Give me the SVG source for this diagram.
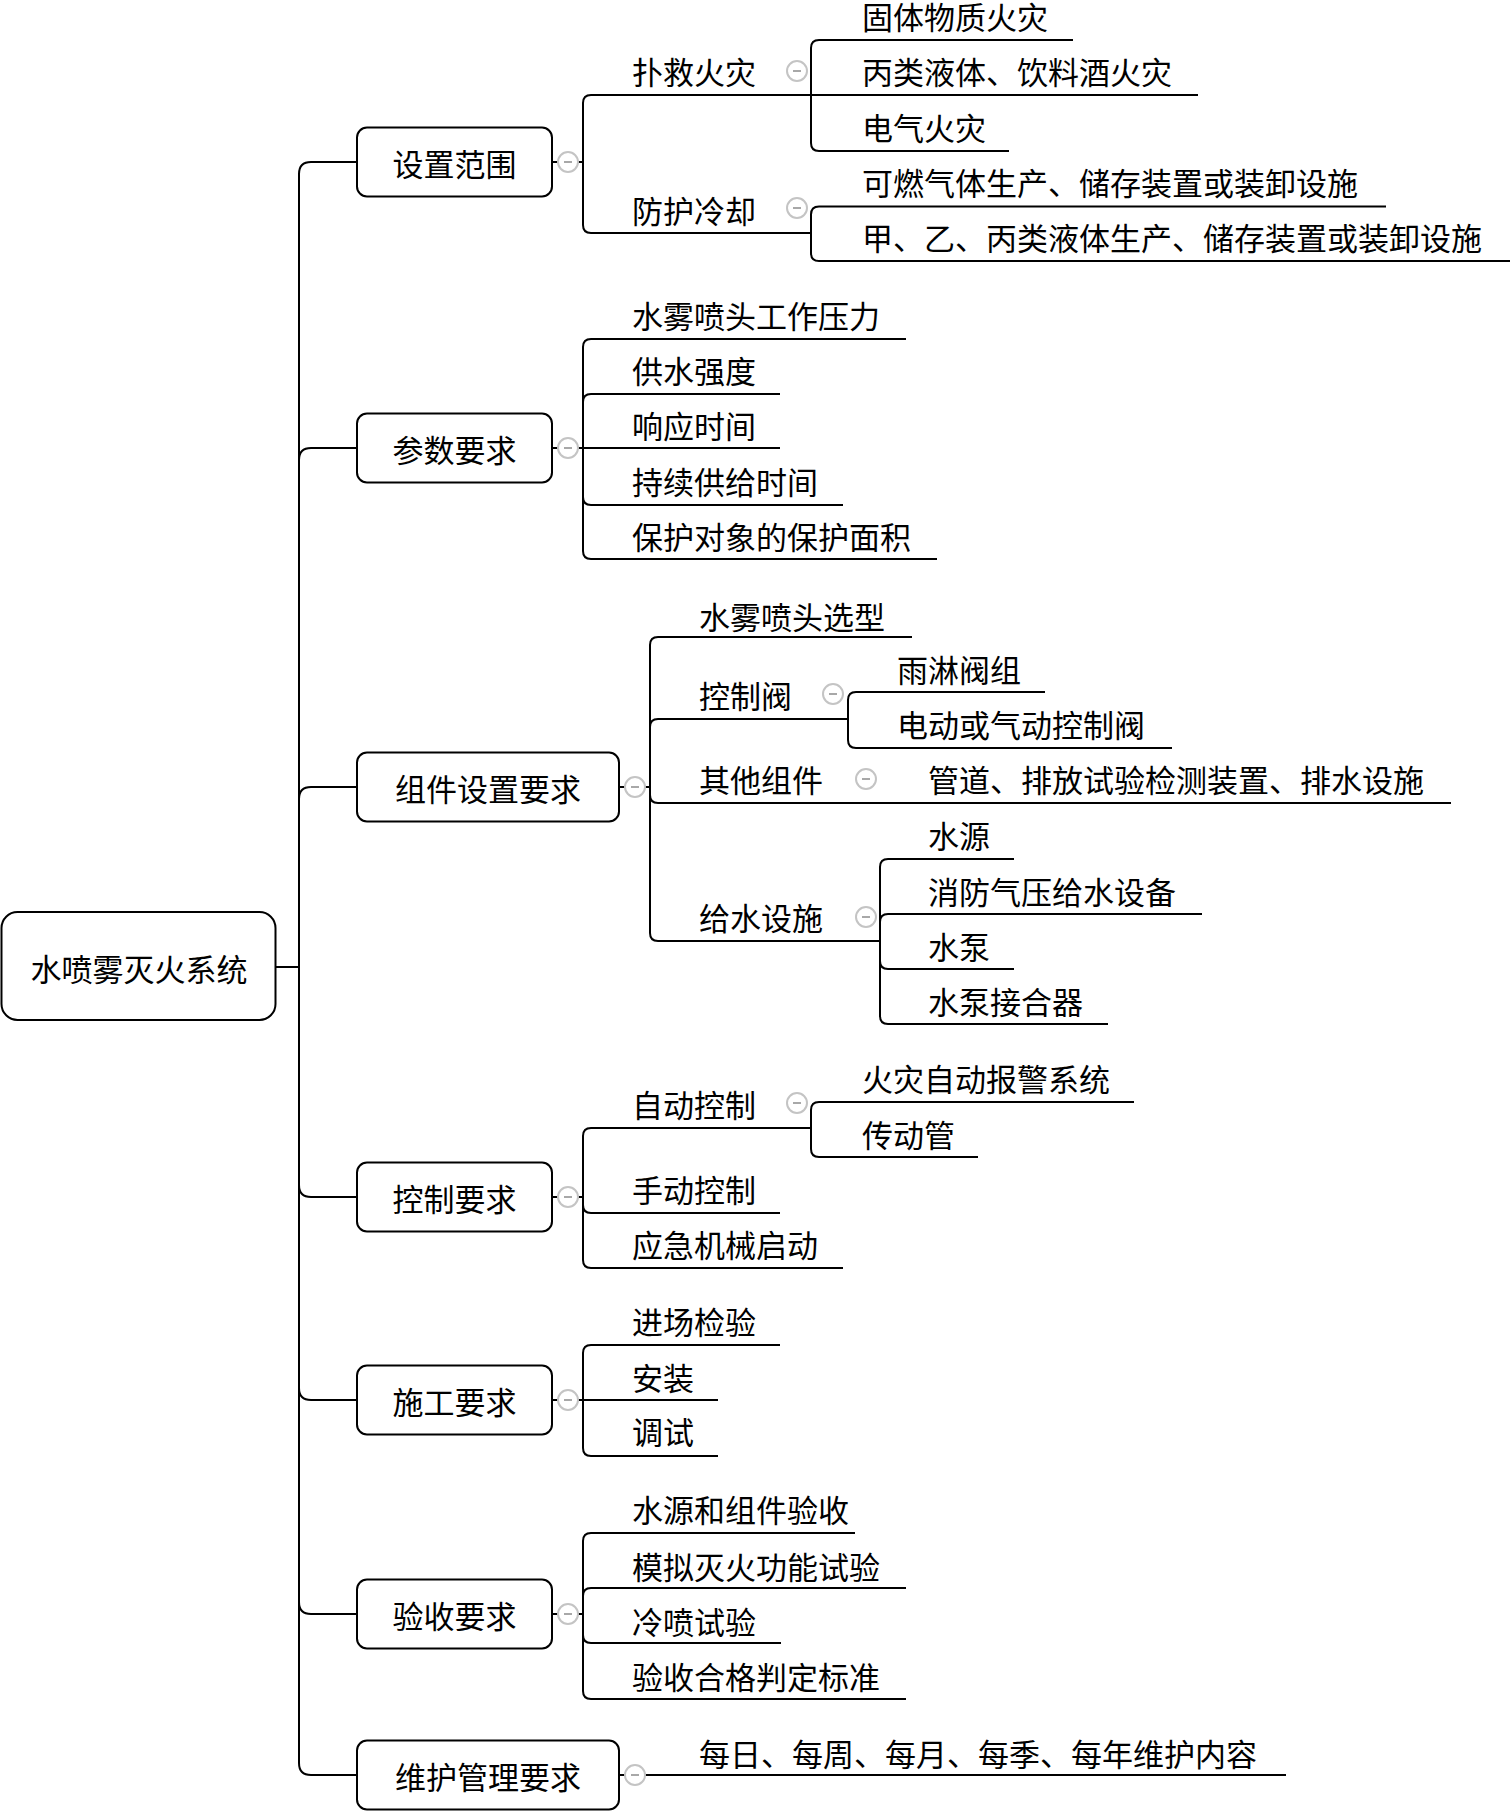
<svg xmlns="http://www.w3.org/2000/svg" width="1511" height="1811" viewBox="0 0 1511 1811">
<style>
.ln{fill:none;stroke:#000;stroke-width:2}
.box{fill:#fff;stroke:#000;stroke-width:2}
.t{font-family:"Noto Sans CJK SC","Noto Sans CJK TC",sans-serif;font-size:31px;fill:#000;dominant-baseline:central}
.mid{text-anchor:middle}
.c{fill:#fff;stroke:#c4c4c4;stroke-width:2}
.m{stroke:#a8a8a8;stroke-width:2}
</style>
<rect width="1511" height="1811" fill="#fff"/>
<g id="connectors">
<path class="ln" d="M275 967 H299"/>
<path class="ln" d="M299 967 V174 Q299 162 311 162 H357"/>
<path class="ln" d="M299 967 V460 Q299 448 311 448 H357"/>
<path class="ln" d="M299 967 V799 Q299 787 311 787 H357"/>
<path class="ln" d="M299 967 V1185 Q299 1197 311 1197 H357"/>
<path class="ln" d="M299 967 V1388 Q299 1400 311 1400 H357"/>
<path class="ln" d="M299 967 V1602 Q299 1614 311 1614 H357"/>
<path class="ln" d="M299 967 V1763 Q299 1775 311 1775 H357"/>
<path class="ln" d="M552 162 H583"/>
<path class="ln" d="M552 448 H583"/>
<path class="ln" d="M619 787 H650"/>
<path class="ln" d="M552 1197 H583"/>
<path class="ln" d="M552 1400 H583"/>
<path class="ln" d="M552 1614 H583"/>
<path class="ln" d="M619 1775 H1286"/>
<path class="ln" d="M583 162 V103 Q583 95 591 95 H811"/>
<path class="ln" d="M583 162 V225 Q583 233 591 233 H811"/>
<path class="ln" d="M811 95 V48 Q811 40 819 40 H1073"/>
<path class="ln" d="M811 95 H1198"/>
<path class="ln" d="M811 95 V143 Q811 151 819 151 H1009"/>
<path class="ln" d="M811 233 V214.5 Q811 206.5 819 206.5 H1386"/>
<path class="ln" d="M811 233 V253 Q811 261 819 261 H1510"/>
<path class="ln" d="M583 448 V347 Q583 339 591 339 H906"/>
<path class="ln" d="M583 448 V402 Q583 394 591 394 H780"/>
<path class="ln" d="M583 448 H780"/>
<path class="ln" d="M583 448 V497 Q583 505 591 505 H843"/>
<path class="ln" d="M583 448 V551 Q583 559 591 559 H937"/>
<path class="ln" d="M650 787 V645 Q650 637 658 637 H912"/>
<path class="ln" d="M650 787 V727 Q650 719 658 719 H848"/>
<path class="ln" d="M650 787 V795 Q650 803 658 803 H880"/>
<path class="ln" d="M650 787 V933 Q650 941 658 941 H880"/>
<path class="ln" d="M848 719 V700 Q848 692 856 692 H1045"/>
<path class="ln" d="M848 719 V740 Q848 748 856 748 H1172"/>
<path class="ln" d="M880 803 H1451"/>
<path class="ln" d="M880 941 V867 Q880 859 888 859 H1014"/>
<path class="ln" d="M880 941 V922 Q880 914 888 914 H1202"/>
<path class="ln" d="M880 941 V961 Q880 969 888 969 H1014"/>
<path class="ln" d="M880 941 V1016 Q880 1024 888 1024 H1108"/>
<path class="ln" d="M583 1197 V1136 Q583 1128 591 1128 H811"/>
<path class="ln" d="M583 1197 V1205 Q583 1213 591 1213 H780"/>
<path class="ln" d="M583 1197 V1260 Q583 1268 591 1268 H843"/>
<path class="ln" d="M811 1128 V1110 Q811 1102 819 1102 H1134"/>
<path class="ln" d="M811 1128 V1149 Q811 1157 819 1157 H978"/>
<path class="ln" d="M583 1400 V1353 Q583 1345 591 1345 H780"/>
<path class="ln" d="M583 1400 H718"/>
<path class="ln" d="M583 1400 V1448 Q583 1456 591 1456 H718"/>
<path class="ln" d="M583 1614 V1541 Q583 1533 591 1533 H855"/>
<path class="ln" d="M583 1614 V1596 Q583 1588 591 1588 H906"/>
<path class="ln" d="M583 1614 V1635 Q583 1643 591 1643 H781"/>
<path class="ln" d="M583 1614 V1691 Q583 1699 591 1699 H906"/>
</g>
<g id="collapse">
<g><circle class="c" cx="568" cy="162" r="10"/><path class="m" d="M564 162 H572"/></g>
<g><circle class="c" cx="568" cy="448" r="10"/><path class="m" d="M564 448 H572"/></g>
<g><circle class="c" cx="635" cy="787" r="10"/><path class="m" d="M631 787 H639"/></g>
<g><circle class="c" cx="568" cy="1197" r="10"/><path class="m" d="M564 1197 H572"/></g>
<g><circle class="c" cx="568" cy="1400" r="10"/><path class="m" d="M564 1400 H572"/></g>
<g><circle class="c" cx="568" cy="1614" r="10"/><path class="m" d="M564 1614 H572"/></g>
<g><circle class="c" cx="635" cy="1775" r="10"/><path class="m" d="M631 1775 H639"/></g>
<g><circle class="c" cx="797" cy="71" r="10"/><path class="m" d="M793 71 H801"/></g>
<g><circle class="c" cx="797" cy="208" r="10"/><path class="m" d="M793 208 H801"/></g>
<g><circle class="c" cx="833" cy="694" r="10"/><path class="m" d="M829 694 H837"/></g>
<g><circle class="c" cx="866" cy="779" r="10"/><path class="m" d="M862 779 H870"/></g>
<g><circle class="c" cx="866" cy="917" r="10"/><path class="m" d="M862 917 H870"/></g>
<g><circle class="c" cx="797" cy="1103" r="10"/><path class="m" d="M793 1103 H801"/></g>
</g>
<g id="root"><rect class="box" x="1.5" y="912" width="274" height="108" rx="16"/><text class="t mid" x="139" y="967">水喷雾灭火系统</text></g>
<g id="n-szfw"><rect class="box" x="357" y="127.5" width="195" height="69" rx="10"/><text class="t mid" x="454.5" y="162">设置范围</text></g>
<g id="n-cszq"><rect class="box" x="357" y="413.5" width="195" height="69" rx="10"/><text class="t mid" x="454.5" y="448">参数要求</text></g>
<g id="n-zjsz"><rect class="box" x="357" y="752.5" width="262" height="69" rx="10"/><text class="t mid" x="488" y="787">组件设置要求</text></g>
<g id="n-kzyq"><rect class="box" x="357" y="1162.5" width="195" height="69" rx="10"/><text class="t mid" x="454.5" y="1197">控制要求</text></g>
<g id="n-sgyq"><rect class="box" x="357" y="1365.5" width="195" height="69" rx="10"/><text class="t mid" x="454.5" y="1400">施工要求</text></g>
<g id="n-ysyq"><rect class="box" x="357" y="1579.5" width="195" height="69" rx="10"/><text class="t mid" x="454.5" y="1614">验收要求</text></g>
<g id="n-whgl"><rect class="box" x="357" y="1740.5" width="262" height="69" rx="10"/><text class="t mid" x="488" y="1775">维护管理要求</text></g>
<g id="n-pjhz"><text class="t" x="632" y="70">扑救火灾</text></g>
<g id="n-fhlq"><text class="t" x="632" y="209">防护冷却</text></g>
<g id="n-gtwz"><text class="t" x="862" y="15.5">固体物质火灾</text></g>
<g id="n-blyt"><text class="t" x="862" y="70">丙类液体、饮料酒火灾</text></g>
<g id="n-dqhz"><text class="t" x="862" y="126">电气火灾</text></g>
<g id="n-krqt"><text class="t" x="862" y="181.5">可燃气体生产、储存装置或装卸设施</text></g>
<g id="n-jybl"><text class="t" x="862" y="236.5">甲、乙、丙类液体生产、储存装置或装卸设施</text></g>
<g id="n-gzyl"><text class="t" x="632" y="314">水雾喷头工作压力</text></g>
<g id="n-gsqd"><text class="t" x="632" y="369">供水强度</text></g>
<g id="n-xysj"><text class="t" x="632" y="424">响应时间</text></g>
<g id="n-cxsj"><text class="t" x="632" y="480">持续供给时间</text></g>
<g id="n-bhmj"><text class="t" x="632" y="535">保护对象的保护面积</text></g>
<g id="n-ptxx"><text class="t" x="699" y="615">水雾喷头选型</text></g>
<g id="n-kzf"><text class="t" x="699" y="694">控制阀</text></g>
<g id="n-ylfz"><text class="t" x="897" y="668">雨淋阀组</text></g>
<g id="n-ddqd"><text class="t" x="897" y="723">电动或气动控制阀</text></g>
<g id="n-qtzj"><text class="t" x="699" y="778">其他组件</text></g>
<g id="n-gdpf"><text class="t" x="928" y="778">管道、排放试验检测装置、排水设施</text></g>
<g id="n-gsss"><text class="t" x="699" y="916">给水设施</text></g>
<g id="n-sy"><text class="t" x="928" y="834">水源</text></g>
<g id="n-xfqy"><text class="t" x="928" y="890">消防气压给水设备</text></g>
<g id="n-sb"><text class="t" x="928" y="945">水泵</text></g>
<g id="n-sbjh"><text class="t" x="928" y="1000">水泵接合器</text></g>
<g id="n-zdkz"><text class="t" x="632" y="1103">自动控制</text></g>
<g id="n-hzbj"><text class="t" x="862" y="1077">火灾自动报警系统</text></g>
<g id="n-cdg"><text class="t" x="862" y="1133">传动管</text></g>
<g id="n-sdkz"><text class="t" x="632" y="1188">手动控制</text></g>
<g id="n-yjjx"><text class="t" x="632" y="1243">应急机械启动</text></g>
<g id="n-jcjy"><text class="t" x="632" y="1320">进场检验</text></g>
<g id="n-az"><text class="t" x="632" y="1376">安装</text></g>
<g id="n-ts"><text class="t" x="632" y="1430">调试</text></g>
<g id="n-syzj"><text class="t" x="632" y="1508">水源和组件验收</text></g>
<g id="n-mnmh"><text class="t" x="632" y="1565">模拟灭火功能试验</text></g>
<g id="n-lpsy"><text class="t" x="632" y="1620">冷喷试验</text></g>
<g id="n-yshg"><text class="t" x="632" y="1675">验收合格判定标准</text></g>
<g id="n-whnr"><text class="t" x="699" y="1752">每日、每周、每月、每季、每年维护内容</text></g>
</svg>
